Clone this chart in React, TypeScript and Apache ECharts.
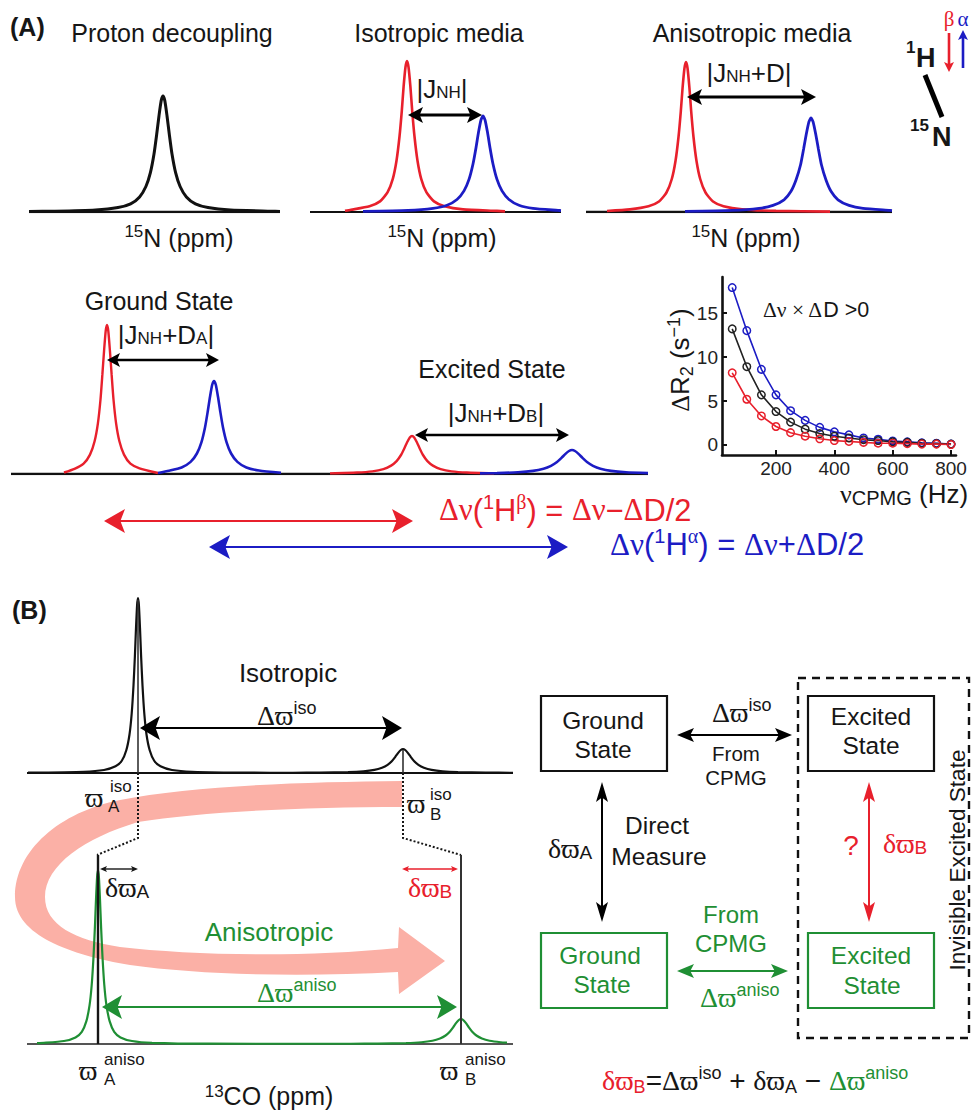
import React, { useEffect, useRef } from "react";
import * as echarts from "echarts";

// ---------- spectra values: position along the ppm axis / intensity above the baseline ----------
const protonX = [29,55,95.5,118,130.6,139.6,145.9,150.4,154,156.7,159,161.2,163,164.8,167,169.3,172,175.6,180.1,186.4,195.4,208,230.5,271,280];
const protonY = [0.6,0.8,2,4.4,8.1,15.1,25.5,39.4,58,77.7,96.3,111.4,116,111.4,96.3,77.7,58,39.4,25.5,15.1,8.1,4.4,2,0.8,0.6];
const isoRedX = [345,351,369.5,380,387.5,392.8,396.5,399.5,401.8,403.6,405.5,407,408.5,410.4,412.2,414.5,417.5,421.2,426.5,434,444.5,463,497,505];
const isoRedY = [1.2,2.2,5.7,10.6,19.6,33.2,51.3,75.5,101.2,125.3,145,151,145,125.3,101.2,75.5,51.3,33.2,19.6,10.6,5.7,2.6,1.1,0.6];
const isoBlueX = [363,408,433,447,457,464,469,473,476,478.5,481,483,485,487.5,490,493,497,502,509,519,533,558,561];
const isoBlueY = [0.7,1.6,3.6,6.7,12.5,21.1,32.6,48,64.3,79.7,92.2,96,92.2,79.7,64.3,48,32.6,21.1,12.5,6.7,3.6,1.6,1.4];
const anisoRedX = [607,630,648.5,659,666.5,671.8,675.5,678.5,680.8,682.6,684.5,686,687.5,689.4,691.2,693.5,696.5,700.2,705.5,713,723.5,742,776,830];
const anisoRedY = [1,2.6,5.7,10.5,19.5,33,51,75,100.5,124.5,144,150,144,124.5,100.5,75,51,33,19.5,10.5,5.7,2.6,1.1,0.4];
const anisoBlueX = [685,732,759,773,784,791,796,800.5,803.6,806.3,808.9,811,813.1,815.7,818.4,821.5,826,831,838,849,863,890,892];
const anisoBlueY = [0.7,1.6,3.6,6.6,12.2,20.7,32,47,63,78,90.2,94,90.2,78,63,47,32,20.7,12.2,6.6,3.6,1.6,1.4];
const groundRedX = [64,74.5,83.6,90,94.6,97.9,100.5,102.4,104.1,105.7,107,108.3,109.9,111.6,113.5,116.1,119.4,124,130.4,139.5,158];
const groundRedY = [1.5,5.2,10.4,19.4,32.8,50.7,74.5,99.8,123.7,143,149,143,123.7,99.8,74.5,50.7,32.8,19.4,10.4,5.7,1];
const groundBlueX = [158,169,181.6,190.6,196.9,201.4,205,207.7,210,212.2,214,215.8,218,220.3,223,226.6,231.1,237.4,246.4,259,281];
const groundBlueY = [1,3.2,6.5,12.1,20.5,31.6,46.5,62.3,77.2,89.3,93,89.3,77.2,62.3,46.5,31.6,20.5,12.1,6.5,3.5,1.2];
const excitedRedX = [330,357,372.4,383.4,391.1,396.6,401,404.3,407,409.8,412,414.2,417,419.7,423,427.4,432.9,440.6,451.6,467,494];
const excitedRedY = [0.65,1.44,2.66,4.94,8.4,12.9,19,25.5,31.5,36.5,38,36.5,31.5,25.5,19,12.9,8.4,4.94,2.66,1.44,0.65];
const excitedBlueX = [480,497,518,533,543.5,551,557,561.5,565.2,569,572,575,578.8,582.5,587,593,600.5,611,626,648];
const excitedBlueY = [0.6,0.9,1.7,3.1,5.3,8.2,12,16.1,19.9,23,24,23,19.9,16.1,12,8.2,5.3,3.1,1.7,0.9];
const isoCoX = [28,84,104,115.5,121.8,126.3,129.5,131.7,133.5,134.9,136,137.1,138,138.9,140,141.1,142.5,144.3,146.5,149.7,154.2,160.5,172,192,248,293,320,348,363.4,374.4,382,387.6,392,395.3,398,400.8,403,405.2,408,410.7,414,418.4,423.9,431.6,442.6,458,485.5,513];
const isoCoY = [0.3,1.2,2.97,6.65,12.25,22.75,38.5,59.5,87.5,117,145,168,175,168,145,117,87.5,59.5,38.5,22.75,12.25,6.65,2.97,1.2,0.3,0.25,0.41,0.91,1.7,3.1,5.3,8.2,12,16.1,19.9,23,24,23,19.9,16.1,12,8.2,5.3,3.1,1.7,0.91,0.41,0.25];
const anisoCoX = [37,44,64,75.5,81.8,86.3,89.5,91.7,93.5,94.9,96,97.1,98,98.9,100,101.1,102.5,104.3,106.5,109.7,114.2,120.5,132,152,208,351,378,406,421.4,432.4,440,445.6,450,453.3,456,458.8,461,463.2,466,468.7,472,476.4,481.9,489.6,500.6,507];
const anisoCoY = [0.95,1.2,3,6.6,12.2,22.6,38.3,59,87,116.6,144.4,167,174,167,144.4,116.6,87,59,38.3,22.6,12.2,6.6,3,1.2,0.3,0.25,0.43,0.95,1.75,3.25,5.5,8.5,12.5,16.8,20.8,24,25,24,20.8,16.8,12.5,8.5,5.5,3.25,1.75,1.4];

// ---------- CPMG dispersion ----------
const nuCpmg = [50,100,150,200,250,300,350,400,450,500,550,600,650,700,750,800];
const r2Blue = [17.9,13,8.6,5.7,3.9,2.8,2.0,1.5,1.15,0.8,0.65,0.45,0.35,0.25,0.2,0.1];
const r2Black = [13.2,8.9,5.7,3.8,2.6,1.8,1.3,1.0,0.8,0.6,0.5,0.35,0.3,0.2,0.15,0.1];
const r2Red = [8.2,5.2,3.3,2.1,1.4,1.0,0.7,0.5,0.4,0.3,0.2,0.2,0.15,0.1,0.1,0.05];
const cpmgXTicks = [200,400,600,800];
const cpmgYTicks = [0,5,10,15];

const RED = "#e8202c";
const BLUE = "#1c1cc4";
const GREEN = "#1f8f34";
const INK = "#161616";
const PINK = "#fbb0a6";
const SANS = '"Liberation Sans", Arial, sans-serif';
const GREEK = '"Liberation Serif", "DejaVu Serif", serif';
const PW = "\u0394\u03D6";
const DW = "\u03B4\u03D6";

echarts.graphic.registerShape(
  "bigArrow",
  echarts.graphic.extendPath(
    "M402 781 C300 782 190 786 120 800 C60 812 15 850 15 897 C15 935 70 955 130 965 C200 975 300 977 398 972 L399 994 L445 961 L399 927 L398 948 C300 958 190 955 120 947 C75 940 45 925 45 897 C45 865 85 838 138 822 C200 812 300 807 402 807 Z",
    {}
  )
);

type Piece = [string, string, string?];
type TOpt = { size?: number; color?: string; align?: string; L?: number; small?: number; weight?: string; rotation?: number };

function T(x: number, y: number, pieces: string | Piece[], o: TOpt = {}) {
  const size = o.size ?? 22;
  const color = o.color ?? INK;
  const small = o.small ?? size * 0.68;
  const L = o.L ?? size * 1.2;
  const list: Piece[] = typeof pieces === "string" ? [[pieces, "b"]] : pieces;
  const rich: any = {};
  list.forEach((p, i) => {
    const kind = p[1];
    const isSmall = kind === "s" || kind === "u" || kind === "S";
    rich["p" + i] = {
      fontSize: isSmall ? small : size,
      fontFamily: kind === "g" || kind === "S" ? GREEK : SANS,
      fontWeight: o.weight ?? "normal",
      fill: p[2] ?? color,
      lineHeight: isSmall ? small : L,
      verticalAlign: kind === "s" || kind === "S" ? "top" : kind === "u" ? "bottom" : "middle",
    };
  });
  return {
    type: "text",
    x,
    y,
    rotation: o.rotation ?? 0,
    z: 6,
    silent: true,
    style: {
      text: list.map((p, i) => `{p${i}|${p[0]}}`).join(""),
      rich,
      align: o.align ?? "left",
      verticalAlign: "middle",
      fontFamily: SANS,
      fontSize: size,
      fill: color,
    },
  };
}

function Line(x1: number, y1: number, x2: number, y2: number, stroke: string, lineWidth: number, extra: any = {}) {
  return { type: "line", z: 5, silent: true, shape: { x1, y1, x2, y2 }, style: { stroke, lineWidth, ...extra } };
}

function head(tx: number, ty: number, dx: number, dy: number, len: number, half: number, fill: string) {
  const nx = -dy, ny = dx;
  const pts = [
    [tx, ty],
    [tx - dx * len + nx * half, ty - dy * len + ny * half],
    [tx - dx * len * 0.78, ty - dy * len * 0.78],
    [tx - dx * len - nx * half, ty - dy * len - ny * half],
  ];
  return { type: "polygon", z: 5, silent: true, shape: { points: pts }, style: { fill } };
}

function Arrow(x1: number, y1: number, x2: number, y2: number, color: string, lw: number, len: number, half: number, both = true) {
  const d = Math.hypot(x2 - x1, y2 - y1);
  const dx = (x2 - x1) / d, dy = (y2 - y1) / d;
  const out: any[] = [Line(x1 + (both ? dx * len * 0.7 : 0), y1 + (both ? dy * len * 0.7 : 0), x2 - dx * len * 0.7, y2 - dy * len * 0.7, color, lw)];
  out.push(head(x2, y2, dx, dy, len, half, color));
  if (both) out.push(head(x1, y1, -dx, -dy, len, half, color));
  return out;
}

function Box(x: number, y: number, w: number, h: number, stroke: string, lineWidth: number) {
  return { type: "rect", z: 5, silent: true, shape: { x, y, width: w, height: h }, style: { fill: "none", stroke, lineWidth } };
}

function Dotted(points: number[][]) {
  return { type: "polyline", z: 5, silent: true, shape: { points }, style: { fill: "none", stroke: INK, lineWidth: 2, lineDash: [2, 2] } };
}

const JSUB = { size: 26, small: 17, L: 24, align: "center" };
const DSUB = { size: 28, small: 19, L: 28 };
const TINY = { size: 17, L: 15 };
const OMEGA = { size: 28, L: 26 };

const graphicElements: any[] = [
  { type: "bigArrow", x: 0, y: 0, z: 0, silent: true, style: { fill: PINK } },

  // panel A headings
  T(10, 27, "(A)", { size: 25, weight: "bold" }),
  T(172, 33, "Proton decoupling", { size: 25, align: "center" }),
  T(439, 33, "Isotropic media", { size: 25, align: "center" }),
  T(752, 33, "Anisotropic media", { size: 25, align: "center" }),
  T(179, 238, [["15", "s"], ["N (ppm)", "b"]], { size: 25, small: 17, L: 30, align: "center" }),
  T(442, 238, [["15", "s"], ["N (ppm)", "b"]], { size: 25, small: 17, L: 30, align: "center" }),
  T(746, 238, [["15", "s"], ["N (ppm)", "b"]], { size: 25, small: 17, L: 30, align: "center" }),
  T(442, 89, [["|J", "b"], ["NH", "u"], ["|", "b"]], JSUB),
  ...Arrow(408, 115, 482, 115, "#000", 3, 15, 8),
  T(749, 73, [["|J", "b"], ["NH", "u"], ["+D|", "b"]], JSUB),
  ...Arrow(687, 97, 816, 97, "#000", 3, 15, 8),

  // spin pair icon
  T(949, 19, [["\u03B2", "g"]], { size: 21, color: RED, align: "center" }),
  T(963, 19, [["\u03B1", "g"]], { size: 21, color: BLUE, align: "center" }),
  ...Arrow(949, 33, 949, 72, RED, 2.6, 10, 5, false),
  ...Arrow(963, 68, 963, 30, BLUE, 2.6, 10, 5, false),
  T(906, 47, "1", { size: 17, weight: "bold" }),
  T(916, 58, "H", { size: 27, weight: "bold" }),
  Line(925, 75, 942, 117, "#000", 5),
  T(910, 125, "15", { size: 17, weight: "bold" }),
  T(932, 137, "N", { size: 27, weight: "bold" }),

  // state spectra
  T(159, 301, "Ground State", { size: 25, align: "center" }),
  T(166, 335, [["|J", "b"], ["NH", "u"], ["+D", "b"], ["A", "u"], ["|", "b"]], JSUB),
  ...Arrow(107, 360, 219, 360, "#000", 2.6, 13, 7),
  T(492, 369, "Excited State", { size: 25, align: "center" }),
  T(496, 413, [["|J", "b"], ["NH", "u"], ["+D", "b"], ["B", "u"], ["|", "b"]], JSUB),
  ...Arrow(415, 435, 569, 435, "#000", 2.6, 13, 7),
  ...Arrow(104, 521, 413, 521, RED, 2.2, 21, 12),
  ...Arrow(209, 547, 568, 547, BLUE, 2.2, 21, 12),
  T(439, 510, [["\u0394\u03BD", "g"], ["(", "b"], ["1", "s"], ["H", "b"], ["\u03B2", "S"], [") = ", "b"], ["\u0394\u03BD", "g"], ["\u2212", "b"], ["\u0394", "g"], ["D/2", "b"]], { size: 30.8, small: 20, L: 36, color: RED }),
  T(610, 544, [["\u0394\u03BD", "g"], ["(", "b"], ["1", "s"], ["H", "b"], ["\u03B1", "S"], [") = ", "b"], ["\u0394\u03BD", "g"], ["+", "b"], ["\u0394", "g"], ["D/2", "b"]], { size: 31, small: 20, L: 36, color: BLUE }),

  // dispersion labels
  T(680, 360, [["\u0394", "g"], ["R", "b"], ["2", "u"], [" (s", "b"], ["\u22121", "s"], [")", "b"]], { size: 26, small: 18, L: 31, align: "center", rotation: Math.PI / 2 }),
  T(763, 310, [["\u0394\u03BD \u00D7 \u0394", "g"], ["D >0", "b"]], { size: 21.5 }),
  T(840, 494, [["\u03BD", "g"], ["CPMG", "u"], [" (Hz)", "b"]], { size: 26, small: 20, L: 27 }),

  // panel B, spectra
  T(12, 610, "(B)", { size: 25, weight: "bold" }),
  T(288, 673, "Isotropic", { size: 26, align: "center" }),
  T(257, 715, [[PW, "g"], ["iso", "s"]], { size: 28, small: 18, L: 32 }),
  ...Arrow(140, 728, 402, 728, "#000", 2.2, 20, 12),
  Line(138, 600, 138, 773, "#333", 1.6),
  Line(403, 750, 403, 773, "#333", 1.6),
  Dotted([[138, 773], [138, 838], [97, 855]]),
  Dotted([[403, 773], [403, 838], [461, 855]]),
  Line(98, 855, 98, 1044, INK, 2.4),
  Line(461, 855, 461, 1044, "#333", 2),
  T(85, 797, [["\u03D6", "g"]], OMEGA),
  T(110, 786, "iso", TINY),
  T(108, 806, "A", TINY),
  T(407, 803, [["\u03D6", "g"]], OMEGA),
  T(430, 794, "iso", TINY),
  T(430, 814, "B", TINY),
  ...Arrow(100, 869, 138, 869, INK, 1.4, 7, 3),
  ...Arrow(402, 869, 458, 869, RED, 1.4, 7, 3),
  T(105, 887, [[DW, "g"], ["A", "u"]], DSUB),
  T(408, 887, [[DW, "g"], ["B", "u"]], { ...DSUB, color: RED }),
  T(269, 932, "Anisotropic", { size: 26, align: "center", color: GREEN }),
  T(257, 992, [[PW, "g"], ["aniso", "s"]], { size: 28, small: 18, L: 32, color: GREEN }),
  ...Arrow(102, 1007, 457, 1007, GREEN, 2.2, 20, 12),
  T(79, 1070, [["\u03D6", "g"]], OMEGA),
  T(104, 1059, "aniso", TINY),
  T(104, 1079, "A", TINY),
  T(440, 1070, [["\u03D6", "g"]], OMEGA),
  T(465, 1059, "aniso", TINY),
  T(465, 1079, "B", TINY),
  T(269, 1096, [["13", "s"], ["CO (ppm)", "b"]], { size: 25, small: 17, L: 27, align: "center" }),

  // panel B, scheme
  { type: "rect", z: 5, silent: true, shape: { x: 798, y: 678, width: 171, height: 360 }, style: { fill: "none", stroke: "#111", lineWidth: 2.4, lineDash: [8, 6] } },
  Box(541, 696, 126, 75, "#111", 2.2),
  Box(808, 696, 126, 75, "#111", 2.2),
  Box(541, 933, 126, 75, GREEN, 2.2),
  Box(808, 933, 126, 75, GREEN, 2.2),
  T(603, 720, "Ground", { size: 24.5, align: "center" }),
  T(603, 749, "State", { size: 24.5, align: "center" }),
  T(871, 716, "Excited", { size: 24.5, align: "center" }),
  T(871, 745, "State", { size: 24.5, align: "center" }),
  T(600, 955, "Ground", { size: 24.5, align: "center", color: GREEN }),
  T(602, 984, "State", { size: 24.5, align: "center", color: GREEN }),
  T(871, 955, "Excited", { size: 24.5, align: "center", color: GREEN }),
  T(872, 985, "State", { size: 24.5, align: "center", color: GREEN }),
  T(957, 860, "Invisible Excited State", { size: 22.6, align: "center", rotation: Math.PI / 2 }),
  ...Arrow(677, 735, 792, 735, "#000", 2, 17, 7),
  T(712, 712, [[PW, "g"], ["iso", "s"]], { size: 28, small: 18, L: 32 }),
  T(736, 753, "From", { size: 20.5, align: "center" }),
  T(736, 777, "CPMG", { size: 20.5, align: "center" }),
  ...Arrow(602, 782, 602, 922, "#000", 2, 20, 6),
  T(548, 848, [[DW, "g"], ["A", "u"]], DSUB),
  T(657, 825, "Direct", { size: 24.5, align: "center" }),
  T(659, 856, "Measure", { size: 24.5, align: "center" }),
  ...Arrow(869, 782, 869, 922, RED, 2, 20, 6),
  T(851, 845, "?", { size: 28, align: "center", color: RED }),
  T(883, 843, [[DW, "g"], ["B", "u"]], { ...DSUB, color: RED }),
  ...Arrow(677, 971, 788, 971, GREEN, 2, 17, 7),
  T(731, 914, "From", { size: 24, align: "center", color: GREEN }),
  T(731, 943, "CPMG", { size: 24, align: "center", color: GREEN }),
  T(700, 997, [[PW, "g"], ["aniso", "s"]], { size: 28, small: 18, L: 32, color: GREEN }),
  T(602, 1080, [
    [DW, "g", RED], ["B", "u", RED], ["=", "b"], [PW, "g"], ["iso", "s"], [" + ", "b"],
    [DW, "g"], ["A", "u"], [" \u2212 ", "b"], [PW, "g", GREEN], ["aniso", "s", GREEN],
  ], { size: 28, small: 18, L: 32 }),
];

// one grid per spectrum; each axis unit is laid out by the chart's own scale
const panels: { box: number[]; base?: string; baseW?: number; traces: [number[], number[], string, number][] }[] = [
  { box: [29, 280, 212, 116], baseW: 2.6, traces: [[protonX, protonY, "#111", 3]] },
  { box: [310, 561, 212, 151], baseW: 2.2, traces: [[isoRedX, isoRedY, RED, 2.6], [isoBlueX, isoBlueY, BLUE, 2.8]] },
  { box: [586, 892, 212, 150], baseW: 2.6, traces: [[anisoRedX, anisoRedY, RED, 2.6], [anisoBlueX, anisoBlueY, BLUE, 2.8]] },
  { box: [11, 648, 474, 149], baseW: 2.4, traces: [[groundRedX, groundRedY, RED, 2.4], [groundBlueX, groundBlueY, BLUE, 2.6], [excitedRedX, excitedRedY, RED, 2.4], [excitedBlueX, excitedBlueY, BLUE, 2.6]] },
  { box: [27, 513, 773, 175], baseW: 1.8, traces: [[isoCoX, isoCoY, "#111", 2.2]] },
  { box: [27, 513, 1044, 174], baseW: 1.8, base: "#555", traces: [[anisoCoX, anisoCoY, GREEN, 2.2]] },
];

function buildOption() {
  const grid: any[] = [];
  const xAxis: any[] = [];
  const yAxis: any[] = [];
  const series: any[] = [];
  panels.forEach((p, i) => {
    const [x0, x1, base, hMax] = p.box;
    grid.push({ left: x0, top: base - hMax, width: x1 - x0, height: hMax, show: false });
    xAxis.push({ type: "value", gridIndex: i, min: x0, max: x1, show: false });
    yAxis.push({ type: "value", gridIndex: i, min: 0, max: hMax, show: false });
    series.push({
      type: "line", xAxisIndex: i, yAxisIndex: i, symbol: "none", silent: true, z: 3,
      data: [[x0, 0], [x1, 0]],
      lineStyle: { color: p.base ?? "#111", width: p.baseW ?? 2 },
    });
    p.traces.forEach(([xs, ys, color, width]) => {
      series.push({
        type: "line", xAxisIndex: i, yAxisIndex: i, symbol: "none", silent: true, z: 4, smooth: 0.2,
        clip: false,
        data: xs.map((x, k) => [x, ys[k]]),
        lineStyle: { color, width },
      });
    });
  });
  const c = panels.length;
  grid.push({ left: 722, top: 277, width: 234, height: 178, show: false });
  xAxis.push({
    type: "value", gridIndex: c, min: 15, max: 817, splitLine: { show: false },
    axisLine: { show: true, onZero: false, lineStyle: { color: "#111", width: 2.6 } },
    axisTick: { show: true, inside: true, length: 5, customValues: cpmgXTicks, lineStyle: { color: "#111", width: 2 } },
    axisLabel: { show: true, customValues: cpmgXTicks, margin: 4, fontSize: 19, fontFamily: SANS, color: "#222" },
  });
  yAxis.push({
    type: "value", gridIndex: c, min: -1.14, max: 19.1, splitLine: { show: false },
    axisLine: { show: true, onZero: false, lineStyle: { color: "#111", width: 2.6 } },
    axisTick: { show: true, inside: true, length: 5, customValues: cpmgYTicks, lineStyle: { color: "#111", width: 2 } },
    axisLabel: { show: true, customValues: cpmgYTicks, margin: 4, fontSize: 19, fontFamily: SANS, color: "#222" },
  });
  ([[r2Blue, BLUE], [r2Black, "#222"], [r2Red, RED]] as [number[], string][]).forEach(([vals, color]) => {
    series.push({
      type: "line", xAxisIndex: c, yAxisIndex: c, silent: true, z: 4, smooth: false,
      symbol: "circle", symbolSize: 7.5, showAllSymbol: true,
      itemStyle: { color: "rgba(0,0,0,0)", borderColor: color, borderWidth: 1.5 },
      lineStyle: { color, width: 1.6 },
      data: nuCpmg.map((x, k) => [x, vals[k]]),
    });
  });
  return { animation: false, backgroundColor: "#ffffff", tooltip: { show: false }, grid, xAxis, yAxis, series, graphic: { elements: graphicElements } };
}

export default function App() {
  const ref = useRef<HTMLDivElement>(null);
  useEffect(() => {
    const chart = echarts.init(ref.current as HTMLDivElement, undefined, { renderer: "svg" });
    chart.setOption(buildOption() as any);
    return () => chart.dispose();
  }, []);
  return <div ref={ref} style={{ position: "absolute", left: 0, top: 0, width: 971, height: 1110 }} />;
}
